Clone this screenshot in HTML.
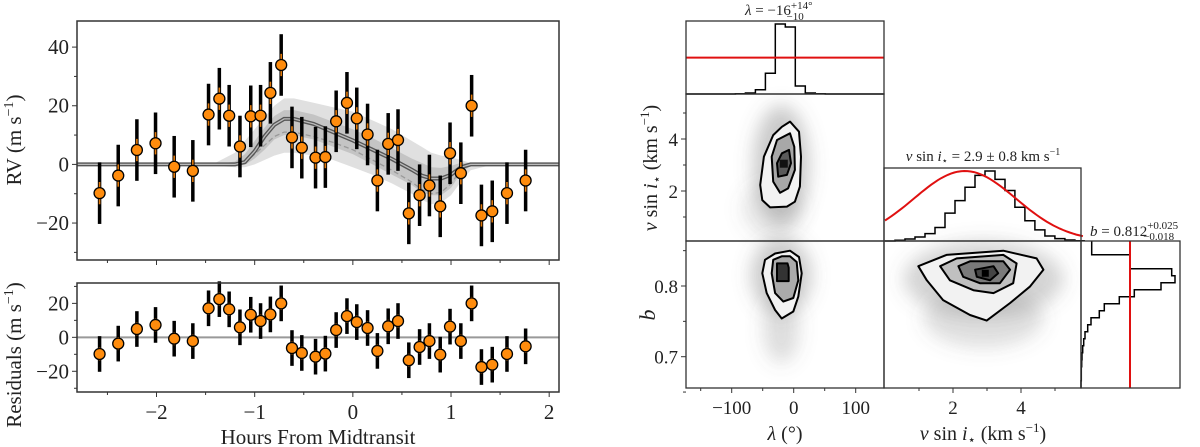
<!DOCTYPE html>
<html><head><meta charset="utf-8"><style>
html,body{margin:0;padding:0;background:#fff;}
svg{display:block;font-family:"Liberation Serif","DejaVu Serif",serif;}
</style></head><body>
<svg id="fig" width="1200" height="447" viewBox="0 0 1200 447" xmlns="http://www.w3.org/2000/svg">
<defs>
<filter id="blur" x="-50%" y="-50%" width="200%" height="200%"><feGaussianBlur stdDeviation="9"/></filter>
</defs>
<g id="leftpanel"></g>
<g id="cornerpanel"></g>
</svg>
<script>
var hours = [-2.58,-2.39,-2.20,-2.01,-1.82,-1.63,-1.47,-1.36,-1.26,-1.15,-1.04,-0.94,-0.84,-0.73,-0.62,-0.52,-0.38,-0.28,-0.17,-0.06,0.04,0.15,0.25,0.36,0.46,0.57,0.68,0.78,0.89,0.99,1.10,1.21,1.31,1.42,1.57,1.76];
var rv = [-9.8,-3.8,4.9,7.2,-0.8,-2.2,17.0,22.4,16.6,6.1,16.4,16.6,24.4,33.9,9.2,5.7,2.3,2.5,14.7,21.0,15.7,10.2,-5.5,7.0,8.3,-16.7,-10.5,-7.2,-14.3,3.8,-3.0,20.0,-17.4,-16.0,-9.8,-5.5];
var resid = [-9.8,-3.7,4.9,7.3,-0.8,-2.2,17.1,22.5,16.5,5.9,13.3,9.6,13.5,20.0,-6.3,-9.2,-11.4,-9.6,4.3,12.5,9.0,5.5,-8.0,6.5,9.6,-13.5,-5.7,-2.2,-10.2,6.3,-2.2,20.0,-17.5,-16.1,-9.8,-5.3];
var errOuter = 10.5;
var errInner = 3.8;
var modelT = [-2.81,-1.6,-1.4,-1.2,-1.1,-1.0,-0.9,-0.8,-0.7,-0.6,-0.4,-0.2,0,0.2,0.4,0.6,0.7,0.8,0.9,1.0,1.1,1.2,1.4,1.6,2.1];
var modelV = [0,0,0,0,0.8,4.5,9.5,13.5,15.5,15.5,13.8,11,8.2,5,1.8,-1.8,-3.8,-4.8,-4.8,-3.5,-1,0,0,0,0];
var dashV = [0,0,0,0,0.6,3.5,6.5,9.5,11,11,9.5,7.5,5,1.5,-2,-6,-8.5,-10,-9.5,-6.5,-2,0,0,0,0];
var band1Hi = [0,0,0.5,4,8,12,16,20,22.5,22.5,21,19.5,18,15,12,8,6,4,3,2.5,1.5,0.5,0,0,0];
var band1Lo = [0,0,-0.5,-1,-1,0,1.5,3,4,4,3,1.5,-1,-3.5,-6.5,-10,-12,-13.6,-13,-10.5,-6,-2,-0.3,0,0];
var band2Hi = [0,0,0,1,3.5,8,12.5,16.5,18.5,18.5,17,14.5,12,9,5.5,2,0.5,-1,-1.2,-0.5,0.5,0.3,0,0,0];
var band2Lo = [0,0,0,-0.3,-0.2,2,5,8.5,10,10,8.5,6,3.5,0,-3.5,-7,-9.5,-10.5,-10.5,-8,-3,-0.5,0,0,0];
var xTicks = [-2,-1,0,1,2];
var rvTicks = [40,20,0,-20];
var resTicks = [20,0,-20];
var lamEdges0 = -94, lamBin = 16.1;
var lamCounts = [1,3,13,62,210,201,24,3,1];
var lamPrior = 109;
var vEdges0 = 0.0, vBin = 0.294;
var vCounts = [0,2,6,12,22,40,83,120,160,195,208,183,150,100,60,33,15,7,3,1];
var vPriorMean = 2.35, vPriorSigma = 1.5;
var bEdges0 = 0.864, bBin = 0.0099;
var bCounts = [32,32,147,147,272,282,240,160,115,70,55,30,20,12,8,5,3,2,1,1,0];
var bPrior = 147;
var lamTicksMajor = [-100,0,100];
var lamTicksMinor = [-150,-50,50];
var vTicksMajor = [2,4];
var vTicksMinor = [1,3,5];
var bTicksMajor = [0.8,0.7];
var bTicksMinor = [0.85,0.75,0.65];
var c1Outer = [[-6,4.67],[8.5,4.28],[11.8,3.32],[10,2.17],[2,1.59],[-11,1.40],[-38,1.37],[-50.6,1.65],[-54,2.23],[-48,3.32],[-33,4.15],[-19,4.47]];
var c1Mid = [[-6,4.22],[1,3.70],[2,2.81],[-9,2.10],[-22,1.93],[-33,2.36],[-35.5,3.32],[-27,3.96]];
var c1Inner = [[-7.6,3.58],[-4.4,3.07],[-11,2.62],[-25,2.55],[-27,3.07],[-19,3.45]];
var c2Outer = [[-6,0.850],[8.5,0.841],[12.9,0.818],[7.4,0.785],[-0.6,0.764],[-19.4,0.754],[-30,0.766],[-43.5,0.790],[-50.6,0.818],[-46.3,0.837],[-30,0.846]];
var c2Mid = [[-6,0.842],[4.8,0.834],[7.4,0.808],[-0.6,0.783],[-16.8,0.778],[-30,0.790],[-35.5,0.818],[-33,0.837],[-19.4,0.842]];
var c2Inner = [[-10,0.832],[-8,0.826],[-8,0.807],[-27,0.807],[-27,0.832]];
var c3Outer = [[0.98,0.828],[1.81,0.844],[3.48,0.850],[4.46,0.839],[4.66,0.823],[4.26,0.799],[3.68,0.776],[2.99,0.751],[2.5,0.759],[1.71,0.780],[1.23,0.808]];
var c3Mid = [[1.62,0.828],[2.11,0.839],[3.48,0.844],[3.87,0.832],[3.77,0.804],[3.19,0.790],[2.6,0.794],[1.91,0.808]];
var c3Inner = [[2.16,0.828],[2.5,0.835],[3.48,0.835],[3.68,0.823],[3.38,0.804],[2.79,0.804],[2.3,0.813]];
var c3Core = [[2.65,0.823],[3.19,0.828],[3.33,0.818],[3.09,0.808],[2.7,0.813]];

var SVGNS='http://www.w3.org/2000/svg';
function mk(parent, tag, attrs, text){
  var el=document.createElementNS(SVGNS,tag);
  for(var k in attrs) el.setAttribute(k,attrs[k]);
  if(text!==undefined) el.textContent=text;
  parent.appendChild(el); return el;
}
function rich(parent, attrs, parts){
  var t=mk(parent,'text',attrs);
  for(var i=0;i<parts.length;i++){ mk(t,'tspan',parts[i][1]||{},parts[i][0]); }
  return t;
}
var LP=document.getElementById('leftpanel');
var CP=document.getElementById('cornerpanel');

var X0=77,X1=559,TMIN=-2.81,TMAX=2.10;
function sx(t){return X0+(t-TMIN)/(TMAX-TMIN)*(X1-X0);}
var TY0=21,TY1=260,RVMAX=48.9,RVMIN=-32.6;
function sy(v){return TY0+(RVMAX-v)/(RVMAX-RVMIN)*(TY1-TY0);}
var RY0=283,RY1=392,RMAX=32,RMIN=-32.2;
function resY(v){return RY0+(RMAX-v)/(RMAX-RMIN)*(RY1-RY0);}

function poly(xs,ys){var d='';for(var i=0;i<xs.length;i++){d+=(i?'L':'M')+xs[i].toFixed(1)+' '+ys[i].toFixed(1)+' ';}return d;}
function bandPath(hi,lo){
  var d=poly(modelT.map(function(t){return sx(t);}),hi.map(function(v){return sy(v);}));
  for(var i=modelT.length-1;i>=0;i--) d+='L'+sx(modelT[i]).toFixed(1)+' '+sy(lo[i]).toFixed(1)+' ';
  return d+'Z';
}
function frame(par,x0,y0,x1,y1,nm,sw){
  var r=mk(par,'rect',{x:x0,y:y0,width:x1-x0,height:y1-y0,fill:'none',stroke:'#333','stroke-width':sw||1.3});
  
  
}
function minus(v){return (v<0?'\u2212':'')+Math.abs(v);}

try {
  var el;
  el=mk(LP,'path',{d:bandPath(band1Hi,band1Lo),fill:'#e0e0e0'});
  
  
  el=mk(LP,'path',{d:bandPath(band2Hi,band2Lo),fill:'#c4c4c4'});
  
  
  var mxs=modelT.map(function(t){return sx(t);});
  el=mk(LP,'path',{d:poly(mxs,dashV.map(function(v){return sy(v);})),fill:'none',stroke:'#999','stroke-width':1.3,'stroke-dasharray':'5,3'});
  
  
  el=mk(LP,'path',{d:poly(mxs,modelV.map(function(v){return sy(v);})),fill:'none',stroke:'#555','stroke-width':4});
  
  
  mk(LP,'path',{d:poly(mxs,modelV.map(function(v){return sy(v);})),fill:'none',stroke:'#bbb','stroke-width':1.3});
  el=mk(LP,'line',{x1:X0,x2:X1,y1:resY(0),y2:resY(0),stroke:'#999','stroke-width':2});
  
  

  function points(vals,yf,nm){
    var g=mk(LP,'g',{});
    
    
    for(var i=0;i<hours.length;i++){
      var x=sx(hours[i]),v=vals[i];
      mk(g,'line',{x1:x,x2:x,y1:yf(v-errOuter),y2:yf(v+errOuter),stroke:'#000','stroke-width':3.5});
      mk(g,'line',{x1:x,x2:x,y1:yf(v-errInner),y2:yf(v+errInner),stroke:'#e0780a','stroke-width':1.6});
      var c=mk(g,'circle',{cx:x,cy:yf(v),r:5.5,fill:'#ff8c0d',stroke:'#000','stroke-width':1.3});
      
      
    }
  }
  points(rv,sy,'rv-points');
  points(resid,resY,'residual-points');

  frame(LP,X0,TY0,X1,TY1,'rv-axes-frame',1.5);
  frame(LP,X0,RY0,X1,RY1,'residual-axes-frame',1.5);
  for(var k=-5;k<=4;k++){
    var t=k*0.5, len=(k%2===0)?5:3;
    mk(LP,'line',{x1:sx(t),x2:sx(t),y1:TY1,y2:TY1+len,stroke:'#333','stroke-width':1});
    mk(LP,'line',{x1:sx(t),x2:sx(t),y1:RY1,y2:RY1+len,stroke:'#333','stroke-width':1});
  }
  xTicks.forEach(function(t){
    var tx=mk(LP,'text',{x:sx(t),y:419,'font-size':21,'text-anchor':'middle',fill:'#222'},minus(t));
    
    
  });
  for(var v=-30;v<=40;v+=10){ var l2=(v%20===0)?5:3; mk(LP,'line',{x1:X0-l2,x2:X0,y1:sy(v),y2:sy(v),stroke:'#333','stroke-width':1}); }
  for(var v2=-30;v2<=30;v2+=10){ var l3=(v2%20===0)?5:3; mk(LP,'line',{x1:X0-l3,x2:X0,y1:resY(v2),y2:resY(v2),stroke:'#333','stroke-width':1}); }
  rvTicks.forEach(function(v){
    var tx=mk(LP,'text',{x:X0-8,y:sy(v)+7,'font-size':21,'text-anchor':'end',fill:'#222'},minus(v));
    
    
  });
  resTicks.forEach(function(v){
    var tx=mk(LP,'text',{x:X0-8,y:resY(v)+7,'font-size':21,'text-anchor':'end',fill:'#222'},minus(v));
    
    
  });
  el=mk(LP,'text',{x:318,y:444,'font-size':21,'text-anchor':'middle',fill:'#222'},'Hours From Midtransit');
  
  
  el=rich(LP,{transform:'translate(21,140) rotate(-90)','font-size':21,'text-anchor':'middle',fill:'#222'},[['RV (m s'],['\u22121',{dy:-8,'font-size':14}],[')',{dy:8}]]);
  
  
  el=rich(LP,{transform:'translate(21,355) rotate(-90)','font-size':21,'text-anchor':'middle',fill:'#222'},[['Residuals (m s'],['\u22121',{dy:-8,'font-size':14}],[')',{dy:8}]]);
  
  
} catch(err) { console.log(err); }

var CX0=686,CX1=884,CX2=1081,CX3=1180;
var R1=21,R2=94,R3=241,R4=388,VT=168;
function lx(l){return 793.7+l*0.62;}
function vyy(v){return 243-v*26;}
function vxx(v){return 885+v*34;}
function byy(b){return 286-(b-0.8)*707;}

try {
  var el2;
  function cloud(cx,cy,rx,ryy,op,nm){
    var c=mk(CP,'ellipse',{cx:cx,cy:cy,rx:rx,ry:ryy,fill:'#666','fill-opacity':op,filter:'url(#blur)'});
    
    
  }
  cloud(lx(-20),vyy(3.0),28,60,0.35,'cloud-lambda-vsini');
  cloud(lx(-35),vyy(1.3),30,28,0.15,'cloud-lambda-vsini-tail');
  cloud(lx(-20),byy(0.815),30,38,0.35,'cloud-lambda-b');
  cloud(lx(-20),byy(0.74),18,35,0.22,'cloud-lambda-b-tail');
  cloud(vxx(2.9),byy(0.81),80,38,0.28,'cloud-vsini-b');
  cloud(vxx(2.9),byy(0.755),60,30,0.2,'cloud-vsini-b-tail');

  function contour(pts,xf,yf,fill,nm){
    var d='';
    for(var i=0;i<pts.length;i++) d+=(i?'L':'M')+xf(pts[i][0]).toFixed(1)+' '+yf(pts[i][1]).toFixed(1)+' ';
    var c=mk(CP,'path',{d:d+'Z',fill:fill,stroke:'#000','stroke-width':2,'stroke-linejoin':'round'});
    
    
  }
  contour(c1Outer,lx,vyy,'#f2f2f2','contour-lambda-vsini-outer');
  contour(c1Mid,lx,vyy,'#a8a8a8','contour-lambda-vsini-mid');
  contour(c1Inner,lx,vyy,'#5a5a5a','contour-lambda-vsini-inner');
  mk(CP,'rect',{x:lx(-16)-4,y:vyy(3.05)-4,width:8,height:8,fill:'#111'});
  contour(c2Outer,lx,byy,'#f2f2f2','contour-lambda-b-outer');
  contour(c2Mid,lx,byy,'#aaaaaa','contour-lambda-b-mid');
  contour(c2Inner,lx,byy,'#333','contour-lambda-b-inner');
  contour(c3Outer,vxx,byy,'#f2f2f2','contour-vsini-b-outer');
  contour(c3Mid,vxx,byy,'#c0c0c0','contour-vsini-b-mid');
  contour(c3Inner,vxx,byy,'#7a7a7a','contour-vsini-b-inner');
  contour(c3Core,vxx,byy,'#444','contour-vsini-b-core');
  mk(CP,'rect',{x:vxx(2.95)-3.5,y:byy(0.818)-3.5,width:7,height:7,fill:'#000'});

  function stepH(counts,e0,bw,xf,base,top,maxC){
    var d='';
    for(var i=0;i<counts.length;i++){
      var xa=xf(e0+i*bw), xb=xf(e0+(i+1)*bw), y=base-(counts[i]/maxC)*(base-top);
      d+='L'+xa.toFixed(1)+' '+y.toFixed(1)+' L'+xb.toFixed(1)+' '+y.toFixed(1)+' ';
    }
    return d;
  }
  var lamMax=Math.max.apply(null,lamCounts);
  el2=mk(CP,'path',{d:'M'+CX0+' '+R2+' L'+lx(lamEdges0).toFixed(1)+' '+R2+' '+stepH(lamCounts,lamEdges0,lamBin,lx,R2,R1+3,lamMax)+'L'+lx(lamEdges0+lamCounts.length*lamBin).toFixed(1)+' '+R2+' L'+CX1+' '+R2,fill:'none',stroke:'#000','stroke-width':1.5});
  
  
  var py=R2-(lamPrior/lamMax)*(R2-R1-3);
  el2=mk(CP,'line',{x1:CX0,x2:CX1,y1:py,y2:py,stroke:'#e01010','stroke-width':2});
  
  

  var vMax=Math.max.apply(null,vCounts);
  el2=mk(CP,'path',{d:'M'+vxx(vEdges0).toFixed(1)+' '+R3+' '+stepH(vCounts,vEdges0,vBin,vxx,R3,VT+3,vMax),fill:'none',stroke:'#000','stroke-width':1.5});
  
  
  var pd='';
  for(var i=0;i<=60;i++){var vv=i*5.82/60; var h=Math.exp(-Math.pow(vv-vPriorMean,2)/(2*vPriorSigma*vPriorSigma)); pd+=(i?'L':'M')+vxx(vv).toFixed(1)+' '+(R3-h*(R3-VT-3)).toFixed(1)+' ';}
  el2=mk(CP,'path',{d:pd,fill:'none',stroke:'#e01010','stroke-width':2});
  
  

  var bMax=Math.max.apply(null,bCounts);
  var bd='';
  for(var j=0;j<bCounts.length;j++){
    var ya=byy(bEdges0-j*bBin), yb=byy(bEdges0-(j+1)*bBin), xx=CX2+(bCounts[j]/bMax)*94;
    bd+=(j?'L':'M')+xx.toFixed(1)+' '+ya.toFixed(1)+' L'+xx.toFixed(1)+' '+yb.toFixed(1)+' ';
  }
  el2=mk(CP,'path',{d:bd,fill:'none',stroke:'#000','stroke-width':1.5});
  
  
  var pbx=CX2+(bPrior/bMax)*94;
  el2=mk(CP,'line',{x1:pbx,x2:pbx,y1:R3,y2:R4,stroke:'#e01010','stroke-width':2});
  
  

  frame(CP,CX0,R1,CX1,R2,'lambda-hist-frame');
  frame(CP,CX0,R2,CX1,R3,'lambda-vsini-frame');
  frame(CP,CX0,R3,CX1,R4,'lambda-b-frame');
  frame(CP,CX1,VT,CX2,R3,'vsini-hist-frame');
  frame(CP,CX1,R3,CX2,R4,'vsini-b-frame');
  frame(CP,CX2,R3,CX3,R4,'b-hist-frame');

  lamTicksMajor.forEach(function(l){mk(CP,'line',{x1:lx(l),x2:lx(l),y1:R4,y2:R4+5,stroke:'#333'});});
  lamTicksMinor.forEach(function(l){mk(CP,'line',{x1:lx(l),x2:lx(l),y1:R4,y2:R4+3,stroke:'#333'});});
  lamTicksMajor.forEach(function(l){
    var t=mk(CP,'text',{x:lx(l),y:414,'font-size':19,'text-anchor':'middle',fill:'#222'},minus(l));
    
    
  });
  vTicksMajor.forEach(function(v){
    mk(CP,'line',{x1:vxx(v),x2:vxx(v),y1:R4,y2:R4+5,stroke:'#333'});
    mk(CP,'line',{x1:CX0-5,x2:CX0,y1:vyy(v),y2:vyy(v),stroke:'#333'});
    var t=mk(CP,'text',{x:vxx(v),y:414,'font-size':19,'text-anchor':'middle',fill:'#222'},String(v));
    
    
    t=mk(CP,'text',{x:CX0-8,y:vyy(v)+7,'font-size':19,'text-anchor':'end',fill:'#222'},String(v));
    
    
  });
  vTicksMinor.forEach(function(v){
    mk(CP,'line',{x1:vxx(v),x2:vxx(v),y1:R4,y2:R4+3,stroke:'#333'});
    mk(CP,'line',{x1:CX0-3,x2:CX0,y1:vyy(v),y2:vyy(v),stroke:'#333'});
  });
  bTicksMajor.forEach(function(b){
    mk(CP,'line',{x1:CX0-5,x2:CX0,y1:byy(b),y2:byy(b),stroke:'#333'});
    var t=mk(CP,'text',{x:CX0-8,y:byy(b)+7,'font-size':19,'text-anchor':'end',fill:'#222'},b.toFixed(1));
    
    
  });
  bTicksMinor.forEach(function(b){ mk(CP,'line',{x1:CX0-3,x2:CX0,y1:byy(b),y2:byy(b),stroke:'#333'}); });

  var it={'font-style':'italic'};
  el2=rich(CP,{x:785,y:440,'font-size':20,'text-anchor':'middle',fill:'#222'},[['\u03bb',it],[' (\u00b0)']]);
  
  
  el2=rich(CP,{x:983,y:440,'font-size':20,'text-anchor':'middle',fill:'#222'},[['v',it],[' sin '],['i',it],['\u22c6',{dy:4,'font-size':13}],[' (km s',{dy:-4}],['\u22121',{dy:-8,'font-size':13}],[')',{dy:8}]]);
  
  
  el2=rich(CP,{x:657,y:168,transform:'rotate(-90 657 168)','font-size':20,'text-anchor':'middle',fill:'#222'},[['v',it],[' sin '],['i',it],['\u22c6',{dy:4,'font-size':13}],[' (km s',{dy:-4}],['\u22121',{dy:-8,'font-size':13}],[')',{dy:8}]]);
  
  
  el2=rich(CP,{x:655,y:315,transform:'rotate(-90 655 315)','font-size':22,'text-anchor':'middle',fill:'#222'},[['b',it]]);
  
  
  el2=rich(CP,{x:745,y:15,'font-size':15,fill:'#222'},[['\u03bb',it],[' = \u221216'],['+14\u00b0',{dy:-6,'font-size':11}],['\u221210',{dx:-26,dy:11,'font-size':11}]]);
  
  
  el2=rich(CP,{x:983,y:161,'font-size':15,'text-anchor':'middle',fill:'#222'},[['v',it],[' sin '],['i',it],['\u22c6',{dy:3,'font-size':10}],[' = 2.9 \u00b1 0.8 km s',{dy:-3}],['\u22121',{dy:-6,'font-size':10}]]);
  
  
  el2=rich(CP,{x:1090,y:236,'font-size':15,fill:'#222'},[['b',it],[' = 0.812'],['+0.025',{dy:-7,'font-size':11}],['\u22120.018',{dx:-35,dy:11,'font-size':11}]]);
  
  
} catch(err) { console.log(err); }
</script>
</body></html>
